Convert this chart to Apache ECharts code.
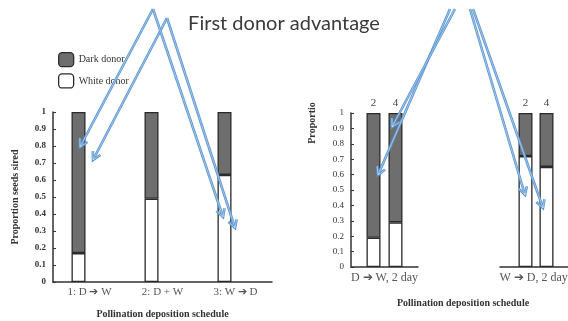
<!DOCTYPE html>
<html>
<head>
<meta charset="utf-8">
<script src="https://cdn.jsdelivr.net/npm/echarts@6/dist/echarts.min.js"></script>
<style>
  html, body { margin: 0; padding: 0; background: #fff; }
  #chart { width: 568px; height: 321px; }
</style>
</head>
<body>
<div id="chart"></div>
<script>
// left panel: three deposition schedules
var leftCats = ['1: D \u2794 W', '2: D + W', '3: W \u2794 D'];
var leftWhite = [0.17, 0.49, 0.63];
var leftDark = [0.83, 0.51, 0.37];

// right panel: 2 and 4 day bars for each schedule
var rightCats = ['D \u2794 W, 2 day', 'W \u2794 D, 2 days'];
var dayLabels = ['2', '4'];
var white2 = [0.19, 0.72];
var dark2 = [0.81, 0.28];
var white4 = [0.29, 0.65];
var dark4 = [0.71, 0.35];

var yTicks = { min: 0, max: 1, interval: 0.1 };

var myChart = echarts.init(document.getElementById('chart'));

var DARK = '#6e6e6e';
var EDGE = '#2a2a2a';
var BLUE = '#5b96d2';
var serif = 'Liberation Serif';

function barStyle(color) {
    return { color: color, borderColor: EDGE, borderWidth: 1.3 };
}

// arrows drawn over the slide (annotation only)
var arrows = [
    [153, 9, 80, 147],
    [167, 18, 93, 160],
    [153, 9, 223, 217],
    [167, 18, 235, 228],
    [450, 9, 378, 175],
    [455, 9, 392, 127],
    [470, 9, 525, 195],
    [473, 9, 543, 208]
];

function arrowParts(a) {
    var x1 = a[0], y1 = a[1], x2 = a[2], y2 = a[3];
    var ang = Math.atan2(y2 - y1, x2 - x1);
    var L = 9, sp = 0.5;
    var p1 = [x2 - L * Math.cos(ang - sp), y2 - L * Math.sin(ang - sp)];
    var p2 = [x2 - L * Math.cos(ang + sp), y2 - L * Math.sin(ang + sp)];
    var out = [];
    [[BLUE, 2.6, 1], ['#ffffff', 0.8, 0.55]].forEach(function (s) {
        out.push({
            type: 'line', z: 100, silent: true,
            shape: { x1: x1, y1: y1, x2: x2, y2: y2 },
            style: { stroke: s[0], lineWidth: s[1], opacity: s[2] }
        });
        out.push({
            type: 'polyline', z: 100, silent: true,
            shape: { points: [p1, [x2, y2], p2] },
            style: { stroke: s[0], lineWidth: s[1], opacity: s[2], fill: null }
        });
    });
    return out;
}

var graphics = [];
arrows.forEach(function (a) {
    graphics = graphics.concat(arrowParts(a));
});
graphics.push({
    type: 'text', x: 463, y: 303, z: 10,
    style: {
        text: 'Pollination deposition schedule',
        textAlign: 'center', textVerticalAlign: 'middle',
        font: 'bold 10px "Liberation Serif"', fill: '#333'
    }
});
graphics.push({
    type: 'text', x: 312, y: 123, z: 10, rotation: Math.PI / 2,
    style: {
        text: 'Proportio',
        textAlign: 'center', textVerticalAlign: 'middle',
        font: 'bold 10px "Liberation Serif"', fill: '#333'
    }
});

function yAxisFor(gridIndex, show, bold, name) {
    return {
        type: 'value', gridIndex: gridIndex, show: show,
        min: yTicks.min, max: yTicks.max, interval: yTicks.interval,
        name: name || '',
        nameLocation: 'middle', nameGap: 33,
        nameTextStyle: { fontFamily: serif, fontWeight: 'bold', fontSize: 10, color: '#333' },
        axisLine: { show: true, lineStyle: { color: '#333', width: 1.5 } },
        axisTick: { show: true, inside: true, length: 3, lineStyle: { color: '#333' } },
        axisLabel: {
            margin: 7, fontFamily: serif, fontSize: 9,
            fontWeight: bold ? 'bold' : 'normal', color: '#333'
        },
        splitLine: { show: false }
    };
}

function xAxisFor(gridIndex, cats, fontSize, name) {
    return {
        type: 'category', gridIndex: gridIndex, data: cats,
        name: name || '',
        nameLocation: 'middle', nameGap: 27,
        nameTextStyle: { fontFamily: serif, fontWeight: 'bold', fontSize: 10, color: '#333' },
        axisLine: { show: true, lineStyle: { color: '#333', width: 1.5 } },
        axisTick: { show: false },
        axisLabel: { margin: 5, fontFamily: serif, fontSize: fontSize, color: '#555' }
    };
}

var series = [
    {
        name: 'White donor', type: 'bar', stack: 'left', xAxisIndex: 0, yAxisIndex: 0,
        barWidth: 14, barGap: '57%', itemStyle: barStyle('#ffffff'), data: leftWhite
    },
    {
        name: 'Dark donor', type: 'bar', stack: 'left', xAxisIndex: 0, yAxisIndex: 0,
        barWidth: 14, barGap: '57%', itemStyle: barStyle(DARK), data: leftDark
    },
    {
        // empty slot next to each bar in the left panel
        name: 'empty', type: 'bar', stack: 'blank', xAxisIndex: 0, yAxisIndex: 0,
        barWidth: 14, barGap: '57%', data: ['-', '-', '-']
    }
];

// right panel, one grid per schedule (stack names kept unique per grid)
[0, 1].forEach(function (g) {
    var ax = g + 1;
    [[white2, dark2, 'd2', 0], [white4, dark4, 'd4', 1]].forEach(function (b) {
        var stackId = b[2] + '_g' + g;
        series.push({
            name: 'White donor', type: 'bar', stack: stackId, xAxisIndex: ax, yAxisIndex: ax,
            barWidth: 14, barGap: g === 0 ? '57%' : '50%',
            itemStyle: barStyle('#ffffff'), data: [b[0][g]]
        });
        series.push({
            name: 'Dark donor', type: 'bar', stack: stackId, xAxisIndex: ax, yAxisIndex: ax,
            barWidth: 14, barGap: g === 0 ? '57%' : '50%',
            itemStyle: barStyle(DARK), data: [b[1][g]],
            label: {
                show: true, position: 'top', distance: 4,
                fontFamily: serif, fontSize: 11, color: '#444',
                formatter: dayLabels[b[3]]
            }
        });
    });
});

var option = {
    backgroundColor: '#ffffff',
    animation: false,
    title: {
        text: 'First donor advantage',
        left: 'center', top: 9,
        textStyle: { fontFamily: 'Lato', fontWeight: 'normal', fontSize: 20, color: '#3a3a3a' }
    },
    legend: {
        orient: 'vertical', left: 53, top: 47,
        itemWidth: 15, itemHeight: 14, itemGap: 6,
        selectedMode: false,
        textStyle: { fontFamily: serif, fontSize: 10, color: '#333' },
        data: [
            { name: 'Dark donor', icon: 'roundRect', itemStyle: { color: DARK, borderColor: EDGE, borderWidth: 1.3 } },
            { name: 'White donor', icon: 'roundRect', itemStyle: { color: '#fff', borderColor: EDGE, borderWidth: 1.3 } }
        ]
    },
    grid: [
        { left: 53, top: 112, width: 219, height: 170, outerBoundsMode: 'none' },
        { left: 351, top: 113, width: 67, height: 154, outerBoundsMode: 'none' },
        { left: 500, top: 113, width: 72, height: 154, outerBoundsMode: 'none' }
    ],
    xAxis: [
        xAxisFor(0, leftCats, 11, 'Pollination deposition schedule'),
        xAxisFor(1, [rightCats[0]], 12),
        xAxisFor(2, [rightCats[1]], 12)
    ],
    yAxis: [
        yAxisFor(0, true, true, 'Proportion seeds sired'),
        yAxisFor(1, true, false),
        yAxisFor(2, false, false)
    ],
    graphic: graphics,
    series: series
};

myChart.setOption(option);
window.addEventListener('resize', function () {
    myChart.resize();
});
</script>
</body>
</html>
